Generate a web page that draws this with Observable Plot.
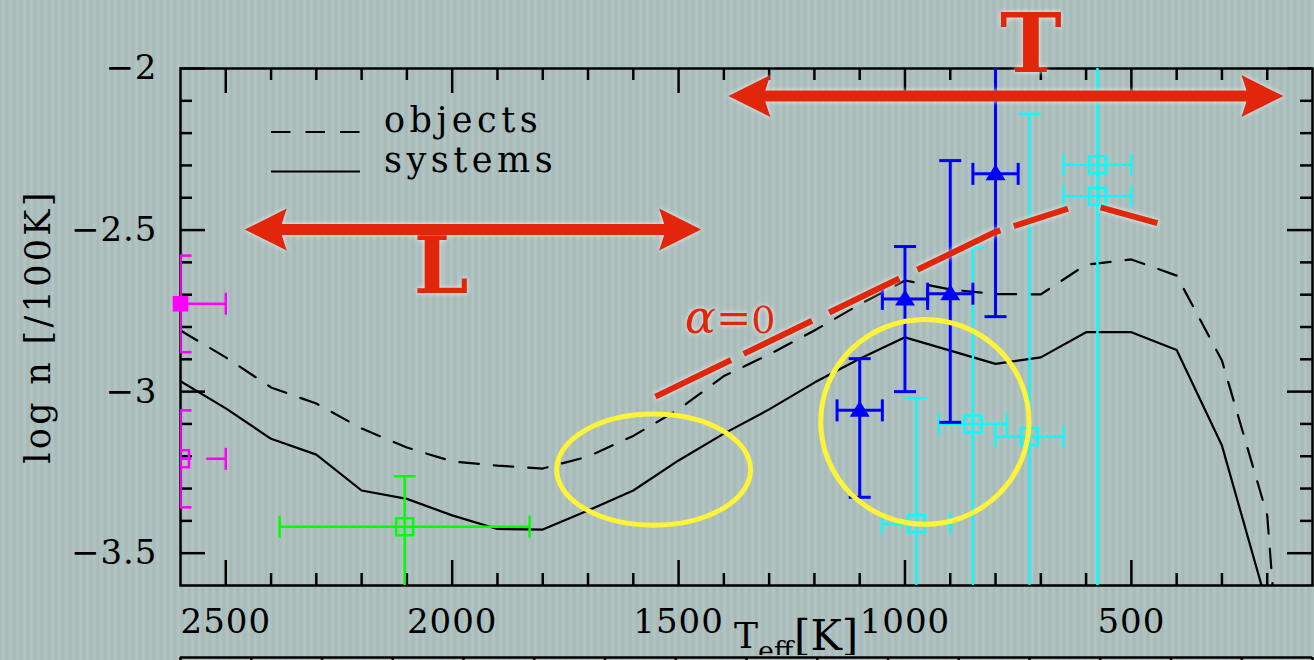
<!DOCTYPE html>
<html>
<head>
<meta charset="utf-8">
<script src="https://cdn.jsdelivr.net/npm/d3@7"></script>
<script src="https://cdn.jsdelivr.net/npm/@observablehq/plot@0.6"></script>
<style>
  html, body { margin: 0; padding: 0; }
  body {
    width: 1314px; height: 660px; overflow: hidden;
    background: repeating-linear-gradient(90deg, #a6b9b9 0px, #b3c5c2 3.5px, #a6b9b9 7px);
  }
  #chart svg, #lower svg { display: block; }
</style>
</head>
<body>
<div id="chart"></div>
<div id="lower"></div>
<script>
// ---------- axis ticks ----------
const xMajorTicks = [2500, 2000, 1500, 1000, 500];
const yMajorTicks = [-2, -2.5, -3, -3.5];
const xMinorTicks = d3.range(2500, 100, -100).filter(t => t % 500 !== 0);
const yMinorTicks = d3.range(-35, -20).filter(k => k % 5 !== 0).map(k => k / 10);

// ---------- model luminosity-function curves ----------
const modelTeff = [2600, 2500, 2400, 2300, 2200, 2100, 2000, 1900, 1800, 1700, 1600, 1500, 1400,
                   1300, 1200, 1100, 1000, 900, 800, 700, 600, 500, 400, 300, 200, 100];
const objectsLogN = [-2.811, -2.894, -2.987, -3.037, -3.114, -3.173, -3.216, -3.229, -3.238, -3.201,
                     -3.137, -3.055, -2.952, -2.885, -2.811, -2.730, -2.656, -2.684, -2.698, -2.699,
                     -2.607, -2.591, -2.641, -2.904, -3.383, -5.2];
const systemsLogN = [-2.968, -3.052, -3.146, -3.195, -3.306, -3.332, -3.383, -3.425, -3.427, -3.368,
                     -3.306, -3.213, -3.130, -3.055, -2.972, -2.898, -2.832, -2.873, -2.914, -2.894,
                     -2.816, -2.816, -2.871, -3.167, -3.662, -5.0];

// ---------- measured space densities ----------
// magenta: late-M / early-L bin (first filled, second open)
const pinkTeff = [2600, 2600];
const pinkLogN = [-2.728, -3.208];
const pinkTeffLo = [2500, 2500];
const pinkTeffHi = [2700, 2700];
const pinkLogNLo = [-2.878, -3.358];
const pinkLogNHi = [-2.579, -3.058];

// green: L dwarfs
const greenTeff = [2105];
const greenLogN = [-3.418];
const greenTeffLo = [1829];
const greenTeffHi = [2381];
const greenLogNLo = [-3.75];
const greenLogNHi = [-3.262];

// blue: T-dwarf bins (filled triangles)
const blueTeff = [1100, 1000, 900, 800];
const blueLogN = [-3.058, -2.713, -2.697, -2.326];
const blueTeffLo = [1050, 950, 850, 750];
const blueTeffHi = [1150, 1050, 950, 850];
const blueLogNLo = [-3.327, -3.000, -3.095, -2.768];
const blueLogNHi = [-2.898, -2.551, -2.285, -1.85];

// cyan: T-dwarf bins (open squares)
const cyanTeff = [975, 850, 725, 575, 575];
const cyanLogN = [-3.409, -3.100, -3.139, -2.298, -2.395];
const cyanTeffLo = [900, 775, 650, 500, 500];
const cyanTeffHi = [1050, 925, 800, 650, 650];
const cyanLogNLo = [-3.8, -3.8, -3.8, -3.8, -3.8];
const cyanLogNHi = [-3.020, -2.554, -2.140, -1.8, -1.8];

// ---------- annotations ----------
const alphaTeff = [1550, 800, 600, 440];
const alphaLogN = [-3.017, -2.508, -2.418, -2.481];
const alphaLabel = "α=0";
const alphaLabelTeff = 1485;
const alphaLabelLogN = -2.820;

const rangeNames = ["L", "T"];
const rangeFromTeff = [2457, 1389];
const rangeToTeff = [1449, 163];
const rangeLogN = [-2.500, -2.087];
const rangeLabelTeff = [2023, 721];
const rangeLabelLogN = [-2.6955, -2.0115];
const rangeLabelSize = [78, 83];

const ringTeff = [1554, 955];
const ringLogN = [-3.243, -3.095];
const ringHalfTeff = [214, 230];
const ringHalfLogN = [0.172, 0.317];

const legendNames = ["objects", "systems"];
const legendDash = ["19.5,15", null];

const lowerTicks = d3.range(0, 17);

// ---------- helpers ----------
const RED = "#e1260c";
const GLOW = "drop-shadow(0 0 2.5px rgba(238,248,244,0.95))";
const FONT = "'DejaVu Serif', serif";

const rows = (T, N, Tlo, Thi, Nlo, Nhi) =>
  T.map((t, i) => ({t, n: N[i], tlo: Tlo[i], thi: Thi[i], nlo: Nlo[i], nhi: Nhi[i]}));
const curve = (T, N) => T.map((t, i) => ({t, n: N[i]}));

const capAcross = {draw(c) { c.moveTo(-11, 0); c.lineTo(11, 0); }};
const capAlong = {draw(c) { c.moveTo(0, -11); c.lineTo(0, 11); }};
const openSquare = {draw(c) { c.rect(-8.5, -8.5, 17, 17); }};
const solidSquare = {draw(c) { c.rect(-7.8, -7.8, 15.6, 15.6); }};
const upTriangle = {draw(c) { c.moveTo(0, -9.5); c.lineTo(10, 6.5); c.lineTo(-10, 6.5); c.closePath(); }};

function errorBars(data, color, width, opts = {}) {
  return [
    Plot.ruleX(data, {x: "t", y1: "nlo", y2: "nhi", stroke: color, strokeWidth: width, clip: true}),
    Plot.ruleY(data, {y: "n", x1: "tlo", x2: "thi", stroke: color, strokeWidth: width, clip: true,
                      strokeDasharray: opts.dashH}),
    Plot.dot(data, {x: "t", y: "nlo", symbol: capAcross, stroke: color, fill: "none", strokeWidth: width, clip: true}),
    Plot.dot(data, {x: "t", y: "nhi", symbol: capAcross, stroke: color, fill: "none", strokeWidth: width, clip: true}),
    Plot.dot(data, {x: "tlo", y: "n", symbol: capAlong, stroke: color, fill: "none", strokeWidth: width, clip: true}),
    Plot.dot(data, {x: "thi", y: "n", symbol: capAlong, stroke: color, fill: "none", strokeWidth: width, clip: true})
  ];
}

const pinkRows = rows(pinkTeff, pinkLogN, pinkTeffLo, pinkTeffHi, pinkLogNLo, pinkLogNHi);
const greenRows = rows(greenTeff, greenLogN, greenTeffLo, greenTeffHi, greenLogNLo, greenLogNHi);
const blueRows = rows(blueTeff, blueLogN, blueTeffLo, blueTeffHi, blueLogNLo, blueLogNHi);
const cyanRows = rows(cyanTeff, cyanLogN, cyanTeffLo, cyanTeffHi, cyanLogNLo, cyanLogNHi);

// ---------- custom layers ----------
function rings(index, {x, y}) {
  const g = d3.create("svg:g");
  ringTeff.forEach((t, i) => {
    const cx = x(t), cy = y(ringLogN[i]);
    g.append("ellipse")
      .attr("cx", cx).attr("cy", cy)
      .attr("rx", Math.abs(x(t + ringHalfTeff[i]) - cx))
      .attr("ry", Math.abs(y(ringLogN[i] + ringHalfLogN[i]) - cy))
      .attr("fill", "none").attr("stroke", "#fdf43a").attr("stroke-width", 5);
  });
  return g.node();
}

// dashed alpha = 0 prediction
function alphaTrend(index, {x, y}) {
  const path = d3.line().x((d, i) => x(alphaTeff[i])).y(d => y(d))(alphaLogN);
  return d3.create("svg:path")
    .attr("d", path).attr("fill", "none").attr("stroke", RED).attr("stroke-width", 6)
    .attr("stroke-dasharray", "84,14,76,19,78,20,92,14,57,34,59,40")
    .style("filter", GLOW).node();
}

function rangeArrows(index, {x, y}) {
  const g = d3.create("svg:g").style("filter", GLOW);
  const hl = 42, hw = 21, nb = 37, st = 5.5;
  rangeNames.forEach((name, i) => {
    const a = Math.min(x(rangeFromTeff[i]), x(rangeToTeff[i]));
    const b = Math.max(x(rangeFromTeff[i]), x(rangeToTeff[i]));
    const yy = y(rangeLogN[i]);
    const d = `M${a},${yy}L${a + hl},${yy - hw}L${a + nb},${yy - st}L${b - nb},${yy - st}` +
              `L${b - hl},${yy - hw}L${b},${yy}L${b - hl},${yy + hw}L${b - nb},${yy + st}` +
              `L${a + nb},${yy + st}L${a + hl},${yy + hw}Z`;
    g.append("path").attr("d", d).attr("fill", RED);
    g.append("text")
      .attr("x", x(rangeLabelTeff[i])).attr("y", y(rangeLabelLogN[i]))
      .attr("text-anchor", "middle").attr("font-family", FONT)
      .attr("font-size", rangeLabelSize[i]).attr("font-weight", "bold")
      .style("letter-spacing", "0px")
      .attr("fill", RED).text(name);
  });
  return g.node();
}

function alphaText(index, {x, y}) {
  const t = d3.create("svg:text")
    .attr("x", x(alphaLabelTeff)).attr("y", y(alphaLabelLogN))
    .attr("text-anchor", "start")
    .attr("fill", RED).attr("font-family", FONT)
    .style("letter-spacing", "0px").style("filter", GLOW);
  const [greek, eq, zero] = [alphaLabel[0], alphaLabel[1], alphaLabel.slice(2)];
  t.append("tspan").attr("font-style", "italic").attr("font-size", 46).text(greek);
  t.append("tspan").attr("font-size", 42).text(eq);
  t.append("tspan").attr("font-size", 38).text(zero);
  return t.node();
}

function legend(index, scales, values, {marginLeft, marginTop}) {
  const g = d3.create("svg:g");
  legendNames.forEach((name, i) => {
    const yy = marginTop + 64 + i * 39.5;
    g.append("line")
      .attr("x1", marginLeft + 91).attr("x2", marginLeft + 180)
      .attr("y1", yy).attr("y2", yy)
      .attr("stroke", "black").attr("stroke-width", 2.2)
      .attr("stroke-dasharray", legendDash[i]);
    g.append("text")
      .attr("x", marginLeft + 204).attr("y", yy)
      .attr("text-anchor", "start")
      .attr("font-family", FONT).attr("font-size", 35)
      .style("letter-spacing", "4.5px")
      .attr("fill", "black").text(name);
  });
  return g.node();
}

function axisTitles(index, scales, values, {width, height, marginLeft, marginTop, marginBottom}) {
  const g = d3.create("svg:g").attr("font-family", FONT).attr("fill", "black");
  const frameMid = (marginTop + height - marginBottom) / 2;
  g.append("text")
    .attr("transform", `translate(${marginLeft - 130},${frameMid}) rotate(-90)`)
    .attr("text-anchor", "middle").attr("font-size", 35)
    .style("letter-spacing", "3.3px")
    .text("log n [/100K]");
  const base = height - marginBottom;
  const t = g.append("text").attr("text-anchor", "start").style("letter-spacing", "0px");
  t.append("tspan").attr("x", marginLeft + 554).attr("y", base + 63).attr("font-size", 36).text("T");
  t.append("tspan").attr("x", marginLeft + 578).attr("y", base + 76).attr("font-size", 27).text("eff");
  t.append("tspan").attr("x", marginLeft + 614).attr("y", base + 65).attr("font-size", 42).text("[K]");
  return g.node();
}

// ---------- main panel ----------
const frameH = 517, frameW = 1132;
const minus = d => String(d).replace("-", "\u2212");

const chart = Plot.plot({
  width: 1314,
  height: 655,
  marginTop: 68,
  marginBottom: 70,
  marginLeft: 180,
  marginRight: 2,
  style: {background: "transparent", fontFamily: FONT, fontSize: "34px", color: "black", letterSpacing: "1px"},
  x: {domain: [2600, 100], ticks: xMajorTicks, tickSize: 0, tickPadding: 23, tickFormat: d => `${d}`, label: null},
  y: {domain: [-3.6, -2], ticks: yMajorTicks, tickSize: 0, tickPadding: 23, tickFormat: minus, label: null},
  marks: [
    // inward tick marks on all four sides
    Plot.ruleX(xMajorTicks, {insetTop: frameH - 25, stroke: "black", strokeWidth: 2.5}),
    Plot.ruleX(xMinorTicks, {insetTop: frameH - 12, stroke: "black", strokeWidth: 2.5}),
    Plot.ruleX(xMajorTicks, {insetBottom: frameH - 25, stroke: "black", strokeWidth: 2.5}),
    Plot.ruleX(xMinorTicks, {insetBottom: frameH - 12, stroke: "black", strokeWidth: 2.5}),
    Plot.ruleY(yMajorTicks, {insetRight: frameW - 25, stroke: "black", strokeWidth: 2.5}),
    Plot.ruleY(yMinorTicks, {insetRight: frameW - 12, stroke: "black", strokeWidth: 2.5}),
    Plot.ruleY(yMajorTicks, {insetLeft: frameW - 25, stroke: "black", strokeWidth: 2.5}),
    Plot.ruleY(yMinorTicks, {insetLeft: frameW - 12, stroke: "black", strokeWidth: 2.5}),
    Plot.frame({stroke: "black", strokeWidth: 2.5}),

    legend,

    // model curves
    Plot.line(curve(modelTeff, objectsLogN), {x: "t", y: "n", stroke: "black", strokeWidth: 2.2,
      strokeDasharray: "19.5,15", clip: true}),
    Plot.line(curve(modelTeff, systemsLogN), {x: "t", y: "n", stroke: "black", strokeWidth: 2.2, clip: true}),

    // data with error bars
    ...errorBars(pinkRows.slice(0, 1), "#ff00ff", 2.5),
    ...errorBars(pinkRows.slice(1), "#ff00ff", 2.5, {dashH: "19,15"}),
    Plot.dot(pinkRows.slice(0, 1), {x: "t", y: "n", symbol: solidSquare, fill: "#ff00ff", stroke: "none"}),
    Plot.dot(pinkRows.slice(1), {x: "t", y: "n", symbol: openSquare, fill: "none", stroke: "#ff00ff", strokeWidth: 2.5, clip: true}),

    ...errorBars(greenRows, "#00ff00", 2.5),
    Plot.dot(greenRows, {x: "t", y: "n", symbol: openSquare, fill: "none", stroke: "#00ff00", strokeWidth: 2.5}),

    ...errorBars(cyanRows, "#00ffff", 2.2),
    Plot.dot(cyanRows, {x: "t", y: "n", symbol: openSquare, fill: "none", stroke: "#00ffff", strokeWidth: 2.5}),

    ...errorBars(blueRows, "#0000ff", 3),
    Plot.dot(blueRows, {x: "t", y: "n", symbol: upTriangle, fill: "#0000ff", stroke: "none"}),

    // annotations
    rings,
    alphaTrend,
    alphaText,
    rangeArrows,

    axisTitles
  ]
});
document.getElementById("chart").append(chart);

// ---------- top edge of the panel below ----------
const lower = Plot.plot({
  width: 1314,
  height: 30,
  marginTop: 2,
  marginBottom: 0,
  marginLeft: 180,
  marginRight: 2,
  style: {background: "transparent"},
  x: {domain: [0, 16], axis: null},
  y: {domain: [0, 1], axis: null},
  marks: [
    Plot.ruleY([1], {stroke: "black", strokeWidth: 2.5}),
    Plot.ruleX(lowerTicks, {insetBottom: 28 - 12, stroke: "black", strokeWidth: 2.5})
  ]
});
document.getElementById("lower").append(lower);
</script>
</body>
</html>
